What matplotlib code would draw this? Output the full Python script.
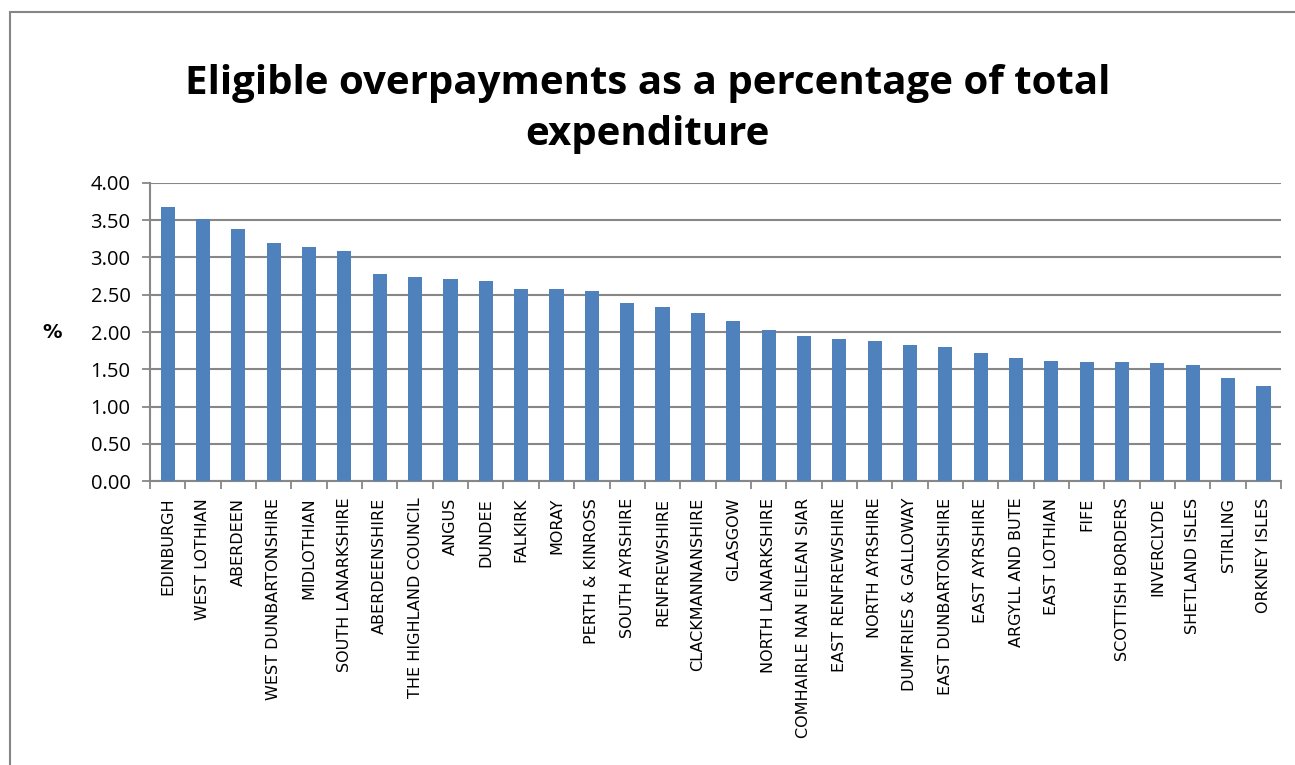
import matplotlib
matplotlib.use("Agg")
import matplotlib.pyplot as plt
from matplotlib.patches import Rectangle
from matplotlib.ticker import FormatStrFormatter, FixedLocator
import numpy as np

# council areas, sorted by value
councils = [
    "EDINBURGH", "WEST LOTHIAN", "ABERDEEN", "WEST DUNBARTONSHIRE", "MIDLOTHIAN",
    "SOUTH LANARKSHIRE", "ABERDEENSHIRE", "THE HIGHLAND COUNCIL", "ANGUS", "DUNDEE",
    "FALKIRK", "MORAY", "PERTH & KINROSS", "SOUTH AYRSHIRE", "RENFREWSHIRE",
    "CLACKMANNANSHIRE", "GLASGOW", "NORTH LANARKSHIRE", "COMHAIRLE NAN EILEAN SIAR",
    "EAST RENFREWSHIRE", "NORTH AYRSHIRE", "DUMFRIES & GALLOWAY", "EAST DUNBARTONSHIRE",
    "EAST AYRSHIRE", "ARGYLL AND BUTE", "EAST LOTHIAN", "FIFE", "SCOTTISH BORDERS",
    "INVERCLYDE", "SHETLAND ISLES", "STIRLING", "ORKNEY ISLES",
]
pct = [
    3.68, 3.51, 3.38, 3.20, 3.14, 3.08, 2.78, 2.74, 2.71, 2.69,
    2.58, 2.57, 2.55, 2.39, 2.34, 2.25, 2.15, 2.03, 1.94, 1.90,
    1.88, 1.82, 1.80, 1.72, 1.65, 1.61, 1.60, 1.60, 1.59, 1.56,
    1.39, 1.28,
]
y_ticks = [0, 0.5, 1.0, 1.5, 2.0, 2.5, 3.0, 3.5, 4.0]

grid_col = "#878787"

fig = plt.figure(figsize=(12.95, 7.65), dpi=100)
ax = fig.add_axes([0.1158, 0.371, 0.8735, 0.390])

x = np.arange(len(councils))
ax.bar(x, pct, width=0.4, color="#4F81BD", zorder=3)

ax.set_xlim(-0.5, len(councils) - 0.5)
ax.set_ylim(0, 4)
ax.set_yticks(y_ticks)
ax.yaxis.set_major_formatter(FormatStrFormatter("%.2f"))
ax.grid(axis="y", color=grid_col, linewidth=1.5, zorder=0)

ax.set_xticks(x)
ax.set_xticklabels(councils, rotation=90, fontsize=11.5, family="DejaVu Sans")
ax.tick_params(axis="x", which="major", length=0, pad=12)
ax.xaxis.set_minor_locator(FixedLocator(np.arange(-0.5, len(councils), 1.0)))
ax.tick_params(axis="x", which="minor", length=6, color=grid_col, width=1.3)
ax.tick_params(axis="y", length=6, color=grid_col, width=1.3, labelsize=14.5, pad=8)
for lbl in ax.get_yticklabels():
    lbl.set_family("Open Sans")

for side in ["top", "right"]:
    ax.spines[side].set_visible(False)
for side in ["left", "bottom"]:
    ax.spines[side].set_color(grid_col)
    ax.spines[side].set_linewidth(1.5)

ax.set_ylabel("%", rotation=0, fontsize=14, fontweight="bold", labelpad=28, va="center")

fig.text(0.5, 0.858, "Eligible overpayments as a percentage of total\nexpenditure",
         ha="center", va="center", fontsize=29, fontweight="bold",
         family="Open Sans", linespacing=1.4)

# chart frame (cropped on right and bottom)
fig.patches.append(Rectangle((10 / 1295, -0.1), 1.2, 1.1 - 12 / 765,
                             transform=fig.transFigure, fill=False,
                             edgecolor="#868686", linewidth=1.5))

fig.savefig("out.png", dpi=100)
